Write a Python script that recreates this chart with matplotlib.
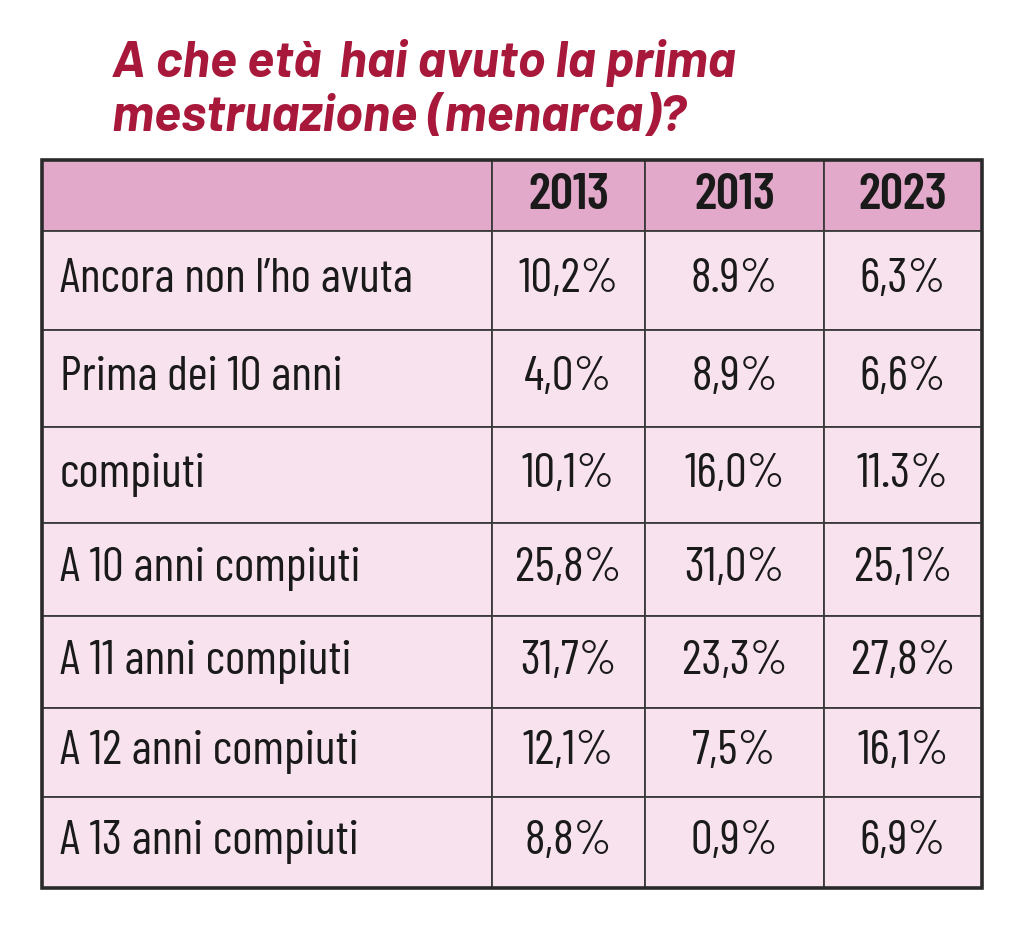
import matplotlib.pyplot as plt
from matplotlib.patches import Rectangle

# Table content
title_lines = ["A che età  hai avuto la prima", "mestruazione (menarca)?"]
years = ["2013", "2013", "2023"]
row_labels = [
    "Ancora non l’ho avuta",
    "Prima dei 10 anni",
    "compiuti",
    "A 10 anni compiuti",
    "A 11 anni compiuti",
    "A 12 anni compiuti",
    "A 13 anni compiuti",
]
col_2013a = ["10,2%", "4,0%", "10,1%", "25,8%", "31,7%", "12,1%", "8,8%"]
col_2013b = ["8.9%", "8,9%", "16,0%", "31,0%", "23,3%", "7,5%", "0,9%"]
col_2023 = ["6,3%", "6,6%", "11.3%", "25,1%", "27,8%", "16,1%", "6,9%"]

# layout (pixels)
W, H = 1024, 927
col_w = [450, 153, 179, 158]
row_h = [71, 99, 97, 96, 93, 92, 89, 91]
tx, ty = 42, 160

fam = ["Barlow Condensed", "Roboto Condensed", "DejaVu Sans"]
title_fam = ["Barlow", "Barlow Semi Condensed", "DejaVu Sans"]
header_bg = "#E3A9CA"
body_bg = "#F7E2EE"
line_col = "#3a3a3a"
title_col = "#A8183A"

fig = plt.figure(figsize=(W / 100, H / 100), dpi=100)
ax = fig.add_axes([0, 0, 1, 1])
ax.set_xlim(0, W)
ax.set_ylim(H, 0)
ax.axis("off")

for i, line in enumerate(title_lines):
    ax.text(112, 77 + i * 54, line, fontsize=37, fontweight="bold", fontstyle="italic",
            color=title_col, family=title_fam, ha="left", va="baseline")

cell_text = [[lab, a, b, c] for lab, a, b, c in zip(row_labels, col_2013a, col_2013b, col_2023)]
header = [""] + years

tot_w, tot_h = sum(col_w), sum(row_h)
tbl = ax.table(cellText=[header] + cell_text,
               bbox=[tx / W, 1 - (ty + tot_h) / H, tot_w / W, tot_h / H])
tbl.auto_set_font_size(False)
for (r, c), cell in tbl.get_celld().items():
    cell.set_width(col_w[c] / W)
    cell.set_height(row_h[r] / H)
    cell.set_edgecolor(line_col)
    cell.set_linewidth(1.3)
    cell.set_facecolor(header_bg if r == 0 else body_bg)
    t = cell.get_text()
    t.set_family(fam)
    t.set_color("#1a1a1a")
    if r == 0:
        t.set_fontsize(37)
        t.set_fontweight("semibold")
    else:
        t.set_fontsize(35)
        t.set_fontweight("normal")
    if c == 0:
        cell._loc = "left"
        cell.PAD = 0.04
        t.set_ha("left")
    else:
        cell._loc = "center"
        t.set_ha("center")

ax.add_patch(Rectangle((tx, ty), tot_w, tot_h, fill=False, lw=2.6,
                       edgecolor="#2a2a2a", zorder=5))

fig.savefig("out.png", dpi=100)
